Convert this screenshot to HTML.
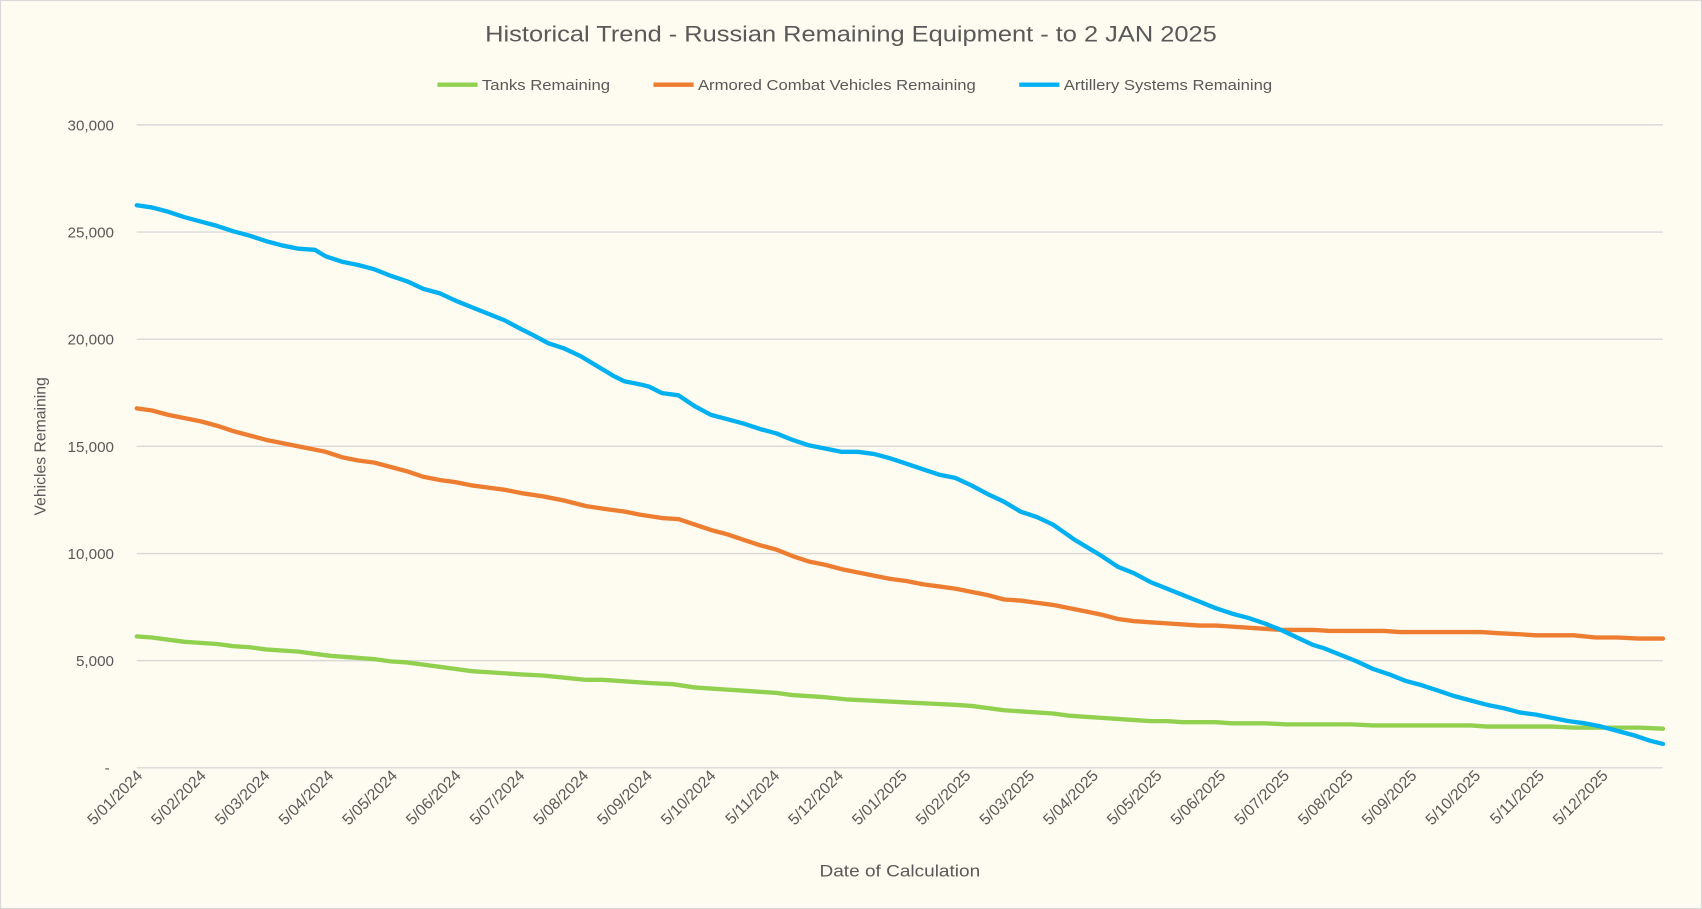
<!DOCTYPE html>
<html><head><meta charset="utf-8"><style>html,body{margin:0;padding:0;background:#fefbf0}svg{display:block}</style></head>
<body>
<svg width="1702" height="909" viewBox="0 0 1568 837" preserveAspectRatio="none" xmlns="http://www.w3.org/2000/svg" font-family="Liberation Sans, sans-serif">
<rect x="0.5" y="0.5" width="1567" height="836" fill="#fefbf0" stroke="#d9d9d9"/>
<text x="784" y="38" text-anchor="middle" font-size="20" fill="#595959" textLength="674" lengthAdjust="spacingAndGlyphs">Historical Trend - Russian Remaining Equipment - to 2 JAN 2025</text>
<g font-size="14" fill="#595959">
<line x1="403" y1="78" x2="440" y2="78" stroke="#92d050" stroke-width="4"/><text x="444" y="83" textLength="118" lengthAdjust="spacingAndGlyphs">Tanks Remaining</text>
<line x1="602" y1="78" x2="639" y2="78" stroke="#ed7d31" stroke-width="4"/><text x="643" y="83" textLength="256" lengthAdjust="spacingAndGlyphs">Armored Combat Vehicles Remaining</text>
<line x1="939" y1="78" x2="976" y2="78" stroke="#00b0f0" stroke-width="4"/><text x="980" y="83" textLength="192" lengthAdjust="spacingAndGlyphs">Artillery Systems Remaining</text>
</g>
<g stroke="#d9d9d9" stroke-width="1.3">
<line x1="126" x2="1532" y1="115" y2="115"/><line x1="126" x2="1532" y1="213.7" y2="213.7"/><line x1="126" x2="1532" y1="312.3" y2="312.3"/><line x1="126" x2="1532" y1="411" y2="411"/><line x1="126" x2="1532" y1="509.7" y2="509.7"/><line x1="126" x2="1532" y1="608.3" y2="608.3"/><line x1="126" x2="1532" y1="707" y2="707"/>
</g>
<g font-size="14" fill="#595959" text-anchor="end">
<text x="105" y="120">30,000</text><text x="105" y="218.7">25,000</text><text x="105" y="317.3">20,000</text><text x="105" y="416">15,000</text><text x="105" y="514.7">10,000</text><text x="105" y="613.3">5,000</text><text x="101" y="712">-</text>
</g>
<text transform="translate(42,411) rotate(-90)" text-anchor="middle" font-size="14.5" fill="#595959">Vehicles Remaining</text>
<text x="829" y="807" text-anchor="middle" font-size="15" fill="#595959" textLength="148" lengthAdjust="spacingAndGlyphs">Date of Calculation</text>
<g font-size="14.5" fill="#595959" text-anchor="end">
<text transform="translate(132,715) rotate(-45)">5/01/2024</text>
<text transform="translate(190.7,715) rotate(-45)">5/02/2024</text>
<text transform="translate(249.4,715) rotate(-45)">5/03/2024</text>
<text transform="translate(308.1,715) rotate(-45)">5/04/2024</text>
<text transform="translate(366.8,715) rotate(-45)">5/05/2024</text>
<text transform="translate(425.5,715) rotate(-45)">5/06/2024</text>
<text transform="translate(484.2,715) rotate(-45)">5/07/2024</text>
<text transform="translate(542.9,715) rotate(-45)">5/08/2024</text>
<text transform="translate(601.6,715) rotate(-45)">5/09/2024</text>
<text transform="translate(660.3,715) rotate(-45)">5/10/2024</text>
<text transform="translate(719,715) rotate(-45)">5/11/2024</text>
<text transform="translate(777.7,715) rotate(-45)">5/12/2024</text>
<text transform="translate(836.4,715) rotate(-45)">5/01/2025</text>
<text transform="translate(895.1,715) rotate(-45)">5/02/2025</text>
<text transform="translate(953.8,715) rotate(-45)">5/03/2025</text>
<text transform="translate(1012.5,715) rotate(-45)">5/04/2025</text>
<text transform="translate(1071.2,715) rotate(-45)">5/05/2025</text>
<text transform="translate(1129.9,715) rotate(-45)">5/06/2025</text>
<text transform="translate(1188.6,715) rotate(-45)">5/07/2025</text>
<text transform="translate(1247.3,715) rotate(-45)">5/08/2025</text>
<text transform="translate(1306,715) rotate(-45)">5/09/2025</text>
<text transform="translate(1364.7,715) rotate(-45)">5/10/2025</text>
<text transform="translate(1423.4,715) rotate(-45)">5/11/2025</text>
<text transform="translate(1482.1,715) rotate(-45)">5/12/2025</text>
</g>
<g fill="none" stroke-width="4" stroke-linejoin="round" stroke-linecap="round">
<polyline stroke="#92d050" points="126,586 140,587 155,589 170,591 200,593 215,595 230,596 245,598 275,600 290,602 305,604 320,605 345,607 360,609 375,610 390,612 405,614 420,616 435,618 450,619 480,621 500,622 520,624 540,626 555,626 570,627 585,628 600,629 620,630 640,633 655,634 670,635 685,636 700,637 715,638 730,640 760,642 780,644 800,645 820,646 840,647 860,648 880,649 895,650 910,652 925,654 940,655 955,656 970,657 985,659 1000,660 1015,661 1030,662 1045,663 1060,664 1075,664 1090,665 1105,665 1120,665 1135,666 1150,666 1165,666 1185,667 1245,667 1265,668 1355,668 1370,669 1430,669 1450,670 1480,670 1510,670 1532,671"/>
<polyline stroke="#ed7d31" points="126,376 140,378 155,382 170,385 185,388 200,392 215,397 230,401 245,405 260,408 275,411 290,414 300,416 315,421 330,424 345,426 360,430 375,434 390,439 405,442 420,444 435,447 450,449 465,451 480,454 500,457 520,461 540,466 560,469 575,471 590,474 610,477 625,478 640,483 655,488 670,492 685,497 700,502 715,506 730,512 745,517 760,520 775,524 790,527 805,530 820,533 835,535 850,538 865,540 880,542 895,545 910,548 925,552 940,553 955,555 970,557 985,560 1000,563 1015,566 1030,570 1045,572 1060,573 1075,574 1090,575 1105,576 1120,576 1135,577 1150,578 1165,579 1180,580 1195,580 1210,580 1225,581 1250,581 1275,581 1290,582 1320,582 1365,582 1380,583 1400,584 1415,585 1430,585 1450,585 1470,587 1490,587 1510,588 1532,588"/>
<polyline stroke="#00b0f0" points="126,189 140,191 155,195 170,200 185,204 200,208 215,213 230,217 245,222 260,226 275,229 290,230 300,236 315,241 330,244 345,248 360,254 375,259 390,266 405,270 420,277 435,283 450,289 465,295 480,303 492,309 505,316 520,321 535,328 550,337 565,346 575,351 590,354 598,356 610,362 625,364 640,374 655,382 670,386 685,390 700,395 715,399 730,405 745,410 760,413 775,416 790,416 805,418 820,422 835,427 850,432 865,437 880,440 895,447 910,455 925,462 940,471 955,476 970,483 980,490 990,497 1000,503 1015,512 1030,522 1045,528 1060,536 1075,542 1090,548 1105,554 1120,560 1135,565 1150,569 1165,574 1180,580 1195,587 1210,594 1220,597 1235,603 1250,609 1265,616 1280,621 1295,627 1310,631 1325,636 1340,641 1355,645 1370,649 1385,652 1400,656 1415,658 1430,661 1445,664 1460,666 1475,669 1490,673 1505,677 1520,682 1532,685"/>
</g>
</svg>
</body></html>
